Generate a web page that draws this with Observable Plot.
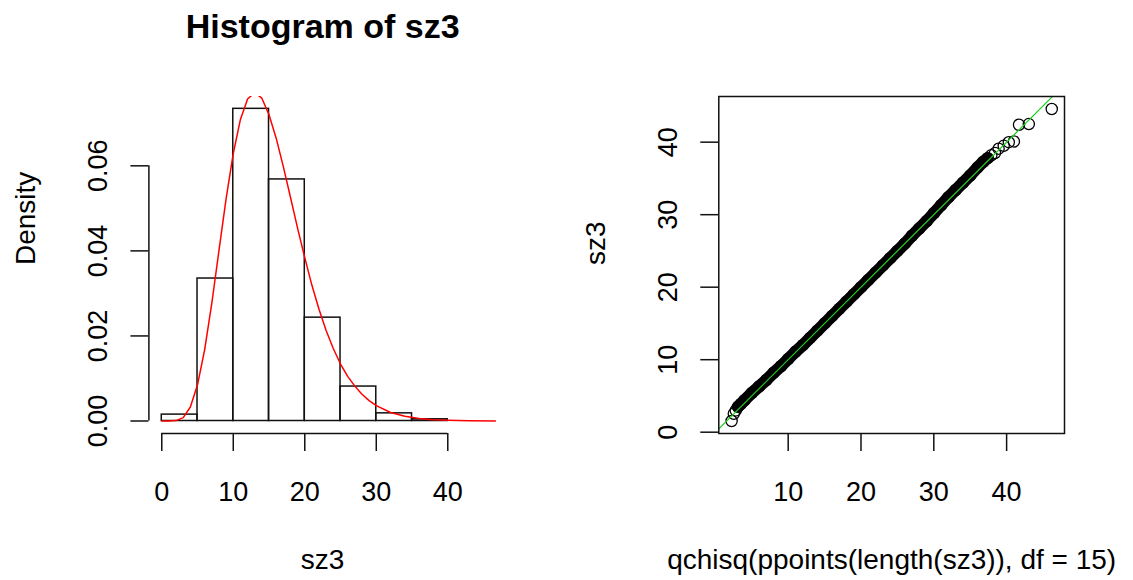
<!DOCTYPE html>
<html><head><meta charset="utf-8">
<script src="https://cdn.jsdelivr.net/npm/d3@7"></script>
<script src="https://cdn.jsdelivr.net/npm/@observablehq/plot@0.6"></script>
<style>
body{margin:0;background:#fff;}
#wrap{display:flex;width:1133px;height:580px;overflow:hidden;}
#wrap svg{font-family:"Liberation Sans", Arial, sans-serif;overflow:visible;}
</style></head><body><div id="wrap"></div>
<script>
// ---------- Left panel: histogram data ----------
const histTitle = "Histogram of sz3";
const histXLabel = "sz3";
const histYLabel = "Density";
const binStarts = [0, 5, 10, 15, 20, 25, 30, 35];
const binEnds = [5, 10, 15, 20, 25, 30, 35, 40];
const binDensity = [0.0015, 0.0335, 0.0734, 0.0568, 0.0243, 0.0081, 0.0018, 0.0004];
const curveX = [0, 1, 2, 3, 4, 5, 6, 7, 8, 9, 10, 11, 12, 13, 14, 15, 16, 17, 18, 19, 20, 21, 22, 23, 24, 25, 26, 27, 28, 29, 30, 32, 34, 36, 38, 40, 43, 46.8];
const curveY = [0, 0.000002, 0.0001, 0.0008, 0.0033, 0.0085, 0.0168, 0.0277, 0.0401, 0.0523, 0.0629, 0.0709, 0.0757, 0.0772, 0.0759, 0.0720, 0.0665, 0.0598, 0.0526, 0.0453, 0.0384, 0.0319, 0.0262, 0.0212, 0.0170, 0.0134, 0.0105, 0.0082, 0.0063, 0.0048, 0.0036, 0.0020, 0.0011, 0.0006, 0.0003, 0.00016, 0.00006, 0.00002];
const histXTicks = [0, 10, 20, 30, 40];
const histYTicks = [0, 0.02, 0.04, 0.06];
const histYTickLabels = ["0.00", "0.02", "0.04", "0.06"];

// ---------- Right panel: Q-Q data ----------
const qqXLabel = "qchisq(ppoints(length(sz3)), df = 15)";
const qqYLabel = "sz3";
const qqTheo = [2.23, 2.53, 2.8, 3.1, 3.5, 4.0, 5, 6, 7, 8, 9, 10, 11, 12, 13, 14, 15, 16, 17, 18, 19, 20, 21, 22, 23, 24, 25, 26, 27, 28, 29, 30, 31, 32, 33, 34, 35, 36, 36.8, 37.4, 37.9, 38.4, 38.9, 39.6, 40.3, 41.0, 41.7, 43.05, 46.2];
const qqSample = [1.54, 2.54, 3.0, 3.5, 3.9, 4.4, 5.4, 6.3, 7.2, 8.2, 9.1, 10.1, 11.1, 12.0, 13.0, 14.0, 15.0, 16.0, 17.0, 18.0, 19.0, 20.0, 21.0, 22.0, 23.0, 24.0, 25.0, 26.0, 27.1, 28.1, 29.1, 30.2, 31.3, 32.4, 33.4, 34.4, 35.4, 36.5, 37.3, 37.8, 38.2, 38.5, 39.1, 39.5, 40.0, 40.1, 42.4, 42.5, 44.58];
const qqXTicks = [10, 20, 30, 40];
const qqYTicks = [0, 10, 20, 30, 40];

// ---------- layout / style ----------
const histXDomain = [-1.8, 46.8];
const histYDomain = [-0.00294, 0.0763];
const qqXDomain = [0.47, 47.95];
const qqYDomain = [-0.18, 46.3];
const denseRange = [3.1, 37.4];
const ink = "#111";
const tickFont = 27, labFont = 28, titleFont = 34;
const tickLen = 18, axisW = 1.5;

const histRows = binStarts.map((s, i) => ({x1: s, x2: binEnds[i], d: binDensity[i]}));
const curveRows = curveX.map((x, i) => ({x, y: curveY[i]}));
const qqRows = qqTheo.map((t, i) => ({x: t, y: qqSample[i]}));

const commonText = {fill: "#000", stroke: null};

const left = Plot.plot({
  width: 566, height: 580,
  marginLeft: 148.4, marginRight: 70.1, marginTop: 96, marginBottom: 147,
  x: {domain: histXDomain, axis: null},
  y: {domain: histYDomain, axis: null},
  style: {background: "transparent", overflow: "visible"},
  marks: [
    Plot.rect(histRows, {x1: "x1", x2: "x2", y1: 0, y2: "d", fill: "none", stroke: ink, strokeWidth: 1.5}),
    Plot.line(curveRows, {x: "x", y: "y", stroke: "#ff0000", strokeWidth: 1.5, clip: true}),
    // y axis
    Plot.ruleX([histXDomain[0]], {y1: histYTicks[0], y2: histYTicks[histYTicks.length - 1], stroke: ink, strokeWidth: axisW}),
    Plot.axisY({ticks: histYTicks, tickSize: tickLen, tickFormat: () => "", label: null, stroke: ink, strokeWidth: axisW}),
    Plot.text(histYTicks, {y: d => d, text: (d, i) => histYTickLabels[i], frameAnchor: "left", dx: -41.7, rotate: -90, lineAnchor: "bottom", textAnchor: "middle", fontSize: tickFont, ...commonText}),
    // x axis
    Plot.ruleY([histYDomain[0]], {x1: histXTicks[0], x2: histXTicks[histXTicks.length - 1], stroke: ink, strokeWidth: axisW}),
    Plot.axisX({ticks: histXTicks, tickSize: tickLen, tickFormat: () => "", label: null, stroke: ink, strokeWidth: axisW}),
    Plot.text(histXTicks, {x: d => d, text: d => String(d), frameAnchor: "bottom", dy: 67, lineAnchor: "bottom", fontSize: tickFont, ...commonText}),
    // titles
    Plot.text([histTitle], {text: d => d, frameAnchor: "top", dy: -59, lineAnchor: "bottom", fontSize: titleFont, fontWeight: "bold", ...commonText}),
    Plot.text([histXLabel], {text: d => d, frameAnchor: "bottom", dy: 135, lineAnchor: "bottom", fontSize: labFont, ...commonText}),
    Plot.text([histYLabel], {text: d => d, frameAnchor: "left", dx: -113.4, rotate: -90, lineAnchor: "bottom", fontSize: labFont, ...commonText})
  ]
});

const right = Plot.plot({
  width: 567, height: 580,
  marginLeft: 152.3, marginRight: 69, marginTop: 96, marginBottom: 147,
  x: {domain: qqXDomain, axis: null},
  y: {domain: qqYDomain, axis: null},
  style: {background: "transparent", overflow: "visible"},
  marks: [
    Plot.line(qqRows.filter(d => d.x >= denseRange[0] && d.x <= denseRange[1]), {x: "x", y: "y", stroke: "#000", strokeWidth: 12, strokeLinecap: "round", clip: true}),
    Plot.dot(qqRows, {x: "x", y: "y", r: 5.6, stroke: "#000", strokeWidth: 1.3, fill: "none", clip: true}),
    Plot.line([Math.min(qqXDomain[0], qqYDomain[0]), Math.max(qqXDomain[1], qqYDomain[1])].map(v => ({v})), {x: "v", y: "v", stroke: "#1fcf1f", strokeWidth: 1.2, clip: true}),
    Plot.frame({stroke: ink, strokeWidth: axisW}),
    Plot.axisY({ticks: qqYTicks, tickSize: tickLen, tickFormat: () => "", label: null, stroke: ink, strokeWidth: axisW}),
    Plot.text(qqYTicks, {y: d => d, text: d => String(d), frameAnchor: "left", dx: -41.6, rotate: -90, lineAnchor: "bottom", textAnchor: "middle", fontSize: tickFont, ...commonText}),
    Plot.axisX({ticks: qqXTicks, tickSize: tickLen, tickFormat: () => "", label: null, stroke: ink, strokeWidth: axisW}),
    Plot.text(qqXTicks, {x: d => d, text: d => String(d), frameAnchor: "bottom", dy: 67, lineAnchor: "bottom", fontSize: tickFont, ...commonText}),
    Plot.text([qqXLabel], {text: d => d, frameAnchor: "bottom", dy: 135, lineAnchor: "bottom", fontSize: labFont, ...commonText}),
    Plot.text([qqYLabel], {text: d => d, frameAnchor: "left", dx: -114.3, rotate: -90, lineAnchor: "bottom", fontSize: labFont, ...commonText})
  ]
});

document.getElementById("wrap").append(left, right);
</script></body></html>
